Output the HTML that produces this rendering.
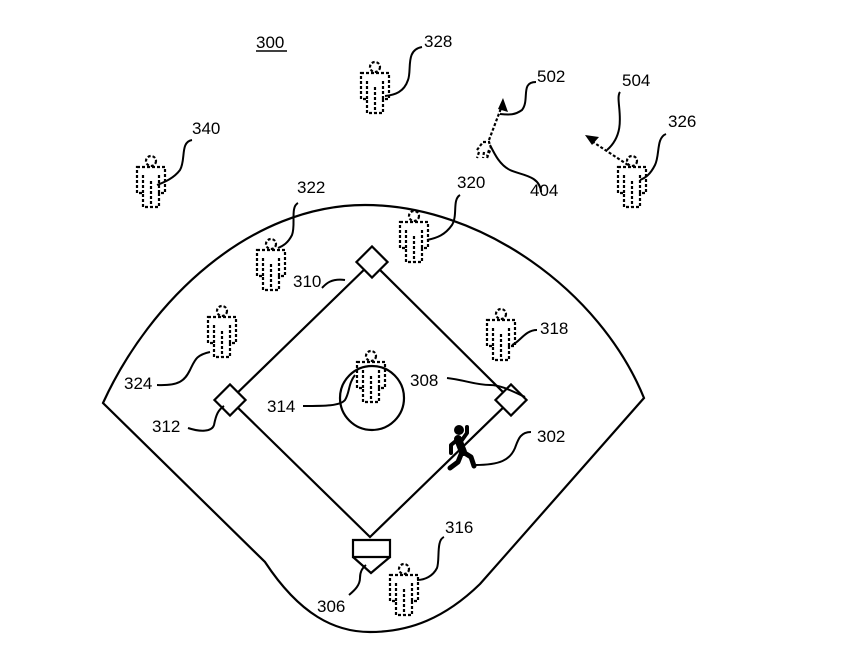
<!DOCTYPE html>
<html><head><meta charset="utf-8"><style>
html,body{margin:0;padding:0;background:#fff;}
svg{display:block;}
text{font-family:"Liberation Sans",sans-serif;font-size:17px;fill:#000;}
</style></head><body>
<svg width="841" height="652" viewBox="0 0 841 652" xmlns="http://www.w3.org/2000/svg">
<defs>
<g id="p" fill="none" stroke="#000" stroke-width="2.2" stroke-dasharray="3,2">
<circle cx="14" cy="-6" r="5"/>
<path d="M0,0 h28 v26 h-6 v14 h-16 v-14 h-6 z"/>
<path d="M6,8 v18 M22,8 v18 M14,14 v26"/>
</g>
</defs>
<g fill="none" stroke="#000" stroke-width="2.2">
<path d="M103,403 C150,300 250,205 365,205 C480,205 600,290 644,398 L480,584 C445,618 410,632 370,632 C335,632 300,615 265,562 Z"/>
<path d="M370,537 L511,400 L372,262 L230,400 Z"/>
<circle cx="372" cy="398" r="32"/>
</g>
<g fill="#fff" stroke="#000" stroke-width="2.2">
<rect x="361" y="251" width="22" height="22" transform="rotate(45 372 262)"/>
<rect x="500" y="389" width="22" height="22" transform="rotate(45 511 400)"/>
<rect x="219" y="389" width="22" height="22" transform="rotate(45 230 400)"/>
<path d="M353,540 h37 v17 h-37 z M353,557 L371,573 L390,557"/>
</g>
<use href="#p" x="361" y="73"/>
<use href="#p" x="137" y="167"/>
<use href="#p" x="257" y="250"/>
<use href="#p" x="400" y="222"/>
<use href="#p" x="208" y="317"/>
<use href="#p" x="487" y="320"/>
<use href="#p" x="357" y="362"/>
<use href="#p" x="618" y="167"/>
<use href="#p" x="390" y="575"/>
<g fill="none" stroke="#000" stroke-width="2.2" stroke-dasharray="3,2">
<path d="M477,150 l6,-8 h6 l2,6 l-4,10 M479,152 l-2,6 M484,152 l-1,6 M489,150 l-2,6"/>
<path d="M489,140 L503,103"/>
<path d="M628,165 L590,140"/>
</g>
<path d="M503,98 l5,14 l-10,-3 z" fill="#000"/>
<path d="M585,135 l14,2 l-7,8 z" fill="#000"/>
<g stroke="#000" stroke-linecap="round" stroke-linejoin="round" fill="none">
<circle cx="459" cy="430" r="5" fill="#000" stroke="none"/>
<path d="M458,439 L463,452" stroke-width="8"/>
<path d="M457,440 L451,445 L451,453" stroke-width="4"/>
<path d="M462,440 L467,433 L467,427" stroke-width="4"/>
<path d="M463,452 L471,457 L474,466" stroke-width="5"/>
<path d="M462,452 L458,462 L450,468" stroke-width="5"/>
</g>
<g fill="none" stroke="#000" stroke-width="2">
<path d="M422,47 C405,50 412,70 408,80 C404,92 395,95 385,96"/>
<path d="M192,140 C180,142 186,160 180,170 C174,178 165,182 157,185"/>
<path d="M298,203 C290,207 296,225 292,235 C288,243 283,246 278,248"/>
<path d="M460,195 C452,200 458,215 452,225 C445,235 437,238 427,240"/>
<path d="M536,82 C520,82 530,100 522,110 C515,115 510,115 500,114"/>
<path d="M620,92 C614,100 630,130 607,150"/>
<path d="M666,134 C656,138 660,155 655,165 C650,175 645,178 640,180"/>
<path d="M541,192 C540,175 520,175 510,170 C500,165 495,155 490,145"/>
<path d="M345,280 C330,278 325,285 322,288"/>
<path d="M537,330 C525,330 520,342 512,345"/>
<path d="M157,385 C180,386 185,380 190,370 C195,360 196,355 210,352"/>
<path d="M525,397 C510,390 500,385 490,385 C475,385 465,380 447,378"/>
<path d="M303,406 C325,406 340,406 345,400 C350,392 348,384 355,375"/>
<path d="M188,428 C200,432 212,432 214,425 C216,415 218,410 224,406"/>
<path d="M531,432 C520,432 518,440 515,448 C510,460 500,465 475,465"/>
<path d="M444,537 C436,540 440,560 437,568 C433,576 425,580 417,580"/>
<path d="M349,595 C355,590 360,585 360,578 C360,572 362,568 366,565"/>
</g>
<text x="256" y="48">300</text>
<path d="M256,51 H287" stroke="#000" stroke-width="1.5"/>
<text x="424" y="47">328</text>
<text x="192" y="134">340</text>
<text x="297" y="193">322</text>
<text x="457" y="188">320</text>
<text x="537" y="82">502</text>
<text x="622" y="86">504</text>
<text x="668" y="127">326</text>
<text x="530" y="196">404</text>
<text x="293" y="287">310</text>
<text x="540" y="334">318</text>
<text x="124" y="389">324</text>
<text x="410" y="386">308</text>
<text x="267" y="412">314</text>
<text x="152" y="432">312</text>
<text x="537" y="442">302</text>
<text x="445" y="533">316</text>
<text x="317" y="612">306</text>
</svg>
</body></html>
